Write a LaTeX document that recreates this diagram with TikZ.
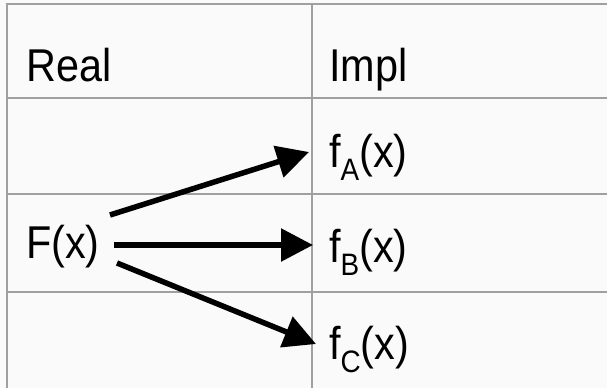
\documentclass[tikz,border=0pt]{standalone}
\usepackage{fontspec}
\setmainfont{Liberation Sans}
\usetikzlibrary{arrows.meta}
\definecolor{bg}{HTML}{FAFAFA}
\definecolor{gridc}{HTML}{A0A0A0}
\newcommand{\mysub}[1]{\raisebox{-0.3em}{\fontsize{31}{31}\selectfont #1}}
\newcommand{\narrow}[1]{\scalebox{0.9}[1]{#1}}
\tikzset{
  gridline/.style={draw=gridc, line width=2pt},
  celltext/.style={inner sep=0pt, anchor=base west, font=\fontsize{46}{46}\selectfont},
  bigarrow/.style={draw=black, line width=5.5pt, -{Triangle[length=32pt, width=32pt]}},
}
\begin{document}
\begin{tikzpicture}[x=1pt, y=-1pt]
\useasboundingbox (0,0) rectangle (607,388);
\fill[bg] (0,0) rectangle (607,388);
% grid
\draw[gridline] (6,4) -- (607,4);
\draw[gridline] (7,98) -- (607,98);
\draw[gridline] (7,194) -- (607,194);
\draw[gridline] (7,292) -- (607,292);
\draw[gridline] (7,3) -- (7,388);
\draw[gridline] (312,3) -- (312,388);
% texts
\node[celltext] (real) at (26,81) {\narrow{Real}};
\node[celltext] (impl) at (329,81) {\narrow{Impl}};
\node[celltext] (F) at (26,258) {\narrow{F(x)}};
\node[celltext] (fA) at (329,167) {\narrow{f\mysub{A}(x)}};
\node[celltext] (fB) at (329,262) {\narrow{f\mysub{B}(x)}};
\node[celltext] (fC) at (329,359) {\narrow{f\mysub{C}(x)}};
% arrow ends
\coordinate (sA) at (110,215);
\coordinate (eA) at (309,152);
\coordinate (sB) at (114,245);
\coordinate (eB) at (313,245);
\coordinate (sC) at (117,263);
\coordinate (eC) at (316,344);
\draw[bigarrow] (sA) -- (eA);
\draw[bigarrow] (sB) -- (eB);
\draw[bigarrow] (sC) -- (eC);
\end{tikzpicture}
\end{document}
